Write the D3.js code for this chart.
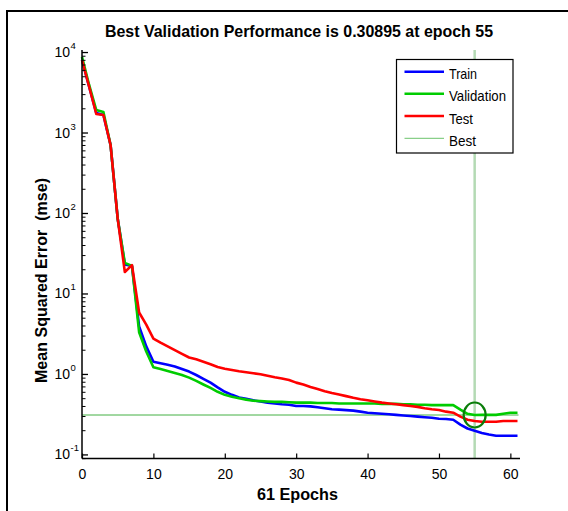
<!DOCTYPE html>
<html>
<head>
<meta charset="utf-8">
<script src="https://cdn.jsdelivr.net/npm/d3@7"></script>
<style>
  html, body { margin: 0; padding: 0; background: #fff; }
  svg { display: block; font-family: Arial, "Liberation Sans", sans-serif; }
</style>
</head>
<body>
<svg id="chart" width="568" height="511"></svg>
<script>
// ---------------- data ----------------
const epochs = d3.range(0, 62);
const train = [8000, 3700, 1750, 1650, 700, 85, 23, 22, 3.9, 2.2,
  1.42, 1.36, 1.30, 1.24, 1.15, 1.07, 0.97, 0.87, 0.78, 0.68,
  0.60, 0.55, 0.51, 0.49, 0.47, 0.455, 0.44, 0.43, 0.42, 0.415,
  0.40, 0.40, 0.395, 0.385, 0.375, 0.365, 0.36, 0.355, 0.35, 0.34,
  0.33, 0.325, 0.32, 0.315, 0.31, 0.305, 0.30, 0.295, 0.29, 0.285,
  0.278, 0.276, 0.27, 0.235, 0.21, 0.197, 0.185, 0.177, 0.171, 0.171,
  0.171, 0.171];
const validation = [8700, 3900, 1900, 1800, 700, 85, 24, 22, 3.3, 1.9,
  1.21, 1.15, 1.09, 1.03, 0.97, 0.90, 0.82, 0.74, 0.67, 0.60,
  0.55, 0.52, 0.50, 0.48, 0.465, 0.46, 0.455, 0.45, 0.45, 0.445,
  0.44, 0.44, 0.44, 0.435, 0.435, 0.435, 0.43, 0.43, 0.43, 0.43,
  0.43, 0.43, 0.425, 0.425, 0.425, 0.42, 0.42, 0.415, 0.415, 0.41,
  0.41, 0.41, 0.41, 0.36, 0.32, 0.30895, 0.31, 0.31, 0.31, 0.32,
  0.33, 0.33];
const test = [7950, 3700, 1700, 1650, 700, 85, 18.5, 22.5, 5.8, 4.1,
  2.75, 2.45, 2.2, 1.98, 1.78, 1.6, 1.52, 1.42, 1.32, 1.22,
  1.16, 1.12, 1.08, 1.05, 1.02, 0.99, 0.95, 0.91, 0.88, 0.84,
  0.78, 0.74, 0.69, 0.65, 0.61, 0.58, 0.555, 0.53, 0.505, 0.485,
  0.47, 0.455, 0.44, 0.43, 0.42, 0.41, 0.40, 0.39, 0.375, 0.365,
  0.357, 0.34, 0.33, 0.295, 0.27, 0.26, 0.255, 0.255, 0.255, 0.26,
  0.26, 0.26];
const bestEpoch = 55;
const bestValue = 0.30895;
const xTicks = [0, 10, 20, 30, 40, 50, 60];
const yMajor = [0.1, 1, 10, 100, 1000, 10000];
const yExponents = ["-1", "0", "1", "2", "3", "4"];
const seriesNames = ["Train", "Validation", "Test"];
const seriesColors = ["#0000ff", "#00cc00", "#ff0000"];
const titleText = "Best Validation Performance is 0.30895 at epoch 55";
const xLabelText = "61 Epochs";
const yLabelText = "Mean Squared Error  (mse)";

// ---------------- layout ----------------
const pLeft = 82, pRight = 517.5, pTop = 50, pBottom = 458.5;
const svg = d3.select("#chart");

const x = d3.scaleLinear().domain([0, 61]).range([pLeft, pRight]);
const y = d3.scaleLog().domain([0.089, 10600]).range([pBottom, pTop]);

// figure frame (top and left edges)
svg.append("line").attr("x1", 7).attr("x2", 568).attr("y1", 11).attr("y2", 11)
  .attr("stroke", "#000").attr("stroke-width", 2);
svg.append("line").attr("x1", 7).attr("x2", 7).attr("y1", 10).attr("y2", 511)
  .attr("stroke", "#000").attr("stroke-width", 2);

// best vertical line
svg.append("line")
  .attr("x1", x(bestEpoch)).attr("x2", x(bestEpoch))
  .attr("y1", pTop).attr("y2", pBottom)
  .attr("stroke", "#b4dab4").attr("stroke-width", 2.5);
// best horizontal line
svg.append("line")
  .attr("x1", pLeft).attr("x2", pRight + 1)
  .attr("y1", y(bestValue)).attr("y2", y(bestValue))
  .attr("stroke", "#45b045").attr("stroke-width", 1);

// curves
const line = d3.line().x((d, i) => x(epochs[i])).y(d => y(d));
[train, validation, test].forEach((s, k) => {
  svg.append("path").datum(s)
    .attr("d", line)
    .attr("fill", "none")
    .attr("stroke", seriesColors[k])
    .attr("stroke-width", 2.6)
    .attr("stroke-linejoin", "round");
});

// best circle
svg.append("ellipse")
  .attr("cx", x(bestEpoch)).attr("cy", y(bestValue))
  .attr("rx", 11).attr("ry", 12.5)
  .attr("fill", "none").attr("stroke", "#0a7d0a").attr("stroke-width", 2.2);

// x axis
const xAxis = d3.axisBottom(x).tickValues(xTicks).tickSize(-5).tickPadding(10.5)
  .tickFormat(d3.format("d"));
const gx = svg.append("g").attr("transform", `translate(0,${pBottom})`).call(xAxis);
gx.select(".domain").remove();
gx.selectAll(".tick line").attr("stroke", "#000").attr("stroke-width", 1.2);
gx.selectAll(".tick text").attr("font-size", 14).attr("fill", "#000")
  .attr("font-family", "Arial, 'Liberation Sans', sans-serif");
svg.append("line").attr("x1", pLeft).attr("x2", pRight + 2.5)
  .attr("y1", pBottom).attr("y2", pBottom)
  .attr("stroke", "#000").attr("stroke-width", 1.5);

// y axis minor ticks
const yMinor = [];
yMajor.forEach(m => { for (let k = 2; k <= 9; k++) { const v = m * k; if (v <= 10600) yMinor.push(v); } });
yMinor.push(0.09);
const gyMinor = svg.append("g").attr("transform", `translate(${pLeft},0)`)
  .call(d3.axisLeft(y).tickValues(yMinor).tickSize(-3.5).tickFormat(""));
gyMinor.select(".domain").remove();
gyMinor.selectAll(".tick line").attr("stroke", "#000").attr("stroke-width", 1);

const gyMajor = svg.append("g").attr("transform", `translate(${pLeft},0)`)
  .call(d3.axisLeft(y).tickValues(yMajor).tickSize(-6).tickFormat(""));
gyMajor.select(".domain").remove();
gyMajor.selectAll(".tick line").attr("stroke", "#000").attr("stroke-width", 1.3);

svg.append("line").attr("x1", pLeft).attr("x2", pLeft)
  .attr("y1", pTop).attr("y2", pBottom)
  .attr("stroke", "#000").attr("stroke-width", 1.5);

// y tick labels: 10^k
yMajor.forEach((v, i) => {
  svg.append("text")
    .attr("x", 70).attr("y", y(v) + 5)
    .attr("text-anchor", "end")
    .attr("font-size", 14).attr("fill", "#000")
    .text("10");
  svg.append("text")
    .attr("x", 70.5).attr("y", y(v) - 3)
    .attr("font-size", 9.5).attr("fill", "#000")
    .text(yExponents[i]);
});

// title
svg.append("text")
  .attr("x", 105).attr("y", 36.5)
  .attr("font-size", 16.5).attr("font-weight", "bold")
  .attr("textLength", 388).attr("lengthAdjust", "spacingAndGlyphs")
  .text(titleText);

// x label
svg.append("text")
  .attr("x", 257).attr("y", 500)
  .attr("font-size", 16.5).attr("font-weight", "bold")
  .attr("textLength", 81).attr("lengthAdjust", "spacingAndGlyphs")
  .text(xLabelText);

// y label
svg.append("text")
  .attr("transform", "translate(46.5,383) rotate(-90)")
  .attr("font-size", 16.5).attr("font-weight", "bold")
  .style("white-space", "pre")
  .attr("textLength", 205).attr("lengthAdjust", "spacingAndGlyphs")
  .text(yLabelText);

// legend
const lg = svg.append("g");
lg.append("rect").attr("x", 396.5).attr("y", 59.5).attr("width", 116.5).attr("height", 93.5)
  .attr("fill", "#fff").attr("stroke", "#000").attr("stroke-width", 1.2);
const legendNames = seriesNames.concat(["Best"]);
const legendColors = seriesColors.concat(["#6cc46c"]);
const legendTextLen = [28, 57, 24, 27];
const rowY = [71.7, 93.8, 116, 138.3];
legendNames.forEach((n, i) => {
  lg.append("line").attr("x1", 404.5).attr("x2", 444)
    .attr("y1", rowY[i]).attr("y2", rowY[i])
    .attr("stroke", legendColors[i]).attr("stroke-width", i === 3 ? 1 : 2.4);
  lg.append("text").attr("x", 449).attr("y", rowY[i] + 7.5)
    .attr("font-size", 15).attr("fill", "#000")
    .attr("textLength", legendTextLen[i]).attr("lengthAdjust", "spacingAndGlyphs")
    .text(n);
});
</script>
</body>
</html>
